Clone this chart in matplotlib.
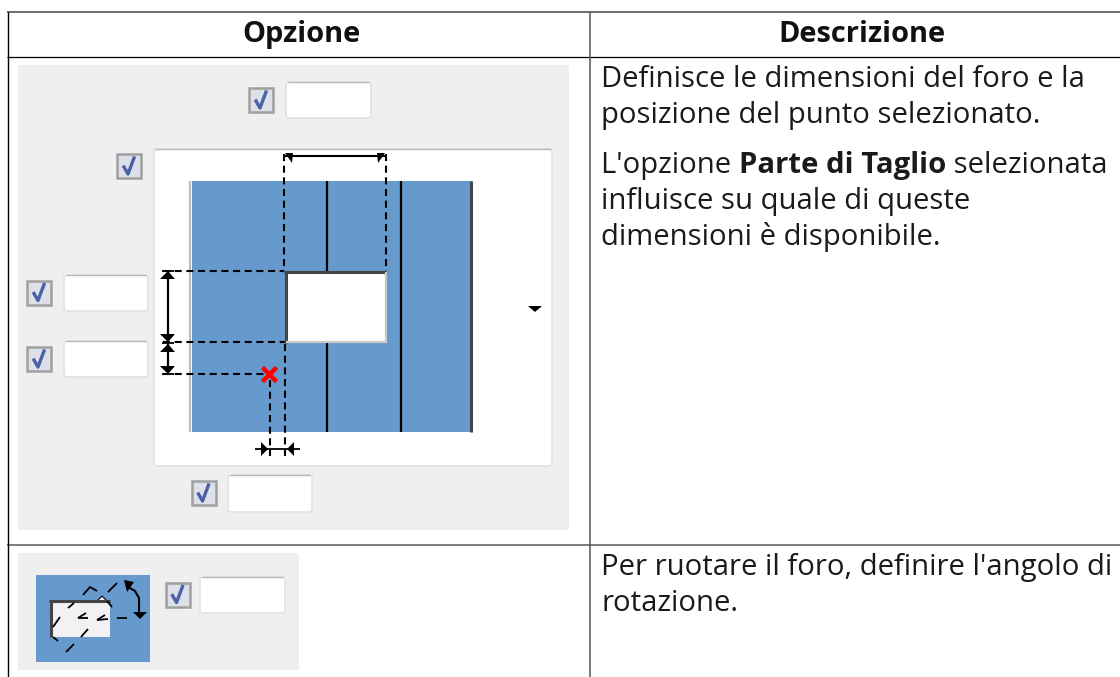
import matplotlib
matplotlib.use('Agg')
import matplotlib.pyplot as plt
from matplotlib.patches import Rectangle, FancyBboxPatch, Polygon

W, H = 1120, 677

header_labels = ['Opzione', 'Descrizione']
header_x = [301, 862]
row1_lines = [
    [('Definisce le dimensioni del foro e la', False)],
    [('posizione del punto selezionato.', False)],
    [("L'opzione ", False), ('Parte di Taglio', True), (' selezionata', False)],
    [('influisce su quale di queste', False)],
    [('dimensioni è disponibile.', False)],
]
row1_y = [87, 123, 173, 209, 245]
row2_lines = ["Per ruotare il foro, definire l'angolo di", 'rotazione.']
row2_y = [575, 611]

# checkbox centres
boxes = [(261, 100), (129, 166), (39, 292.5), (39, 359), (203.5, 493), (177.5, 594.5)]
# input fields: left, right, top, bottom
fields = [(285, 372, 81, 119), (63, 149, 274, 312), (63, 149, 340, 378), (227, 313, 474, 513), (199, 286, 576, 614)]

strip_x = [327, 401]

BLUE = '#6699cc'
GREY = '#efefef'

fig = plt.figure(figsize=(W / 100, H / 100), dpi=100)
ax = fig.add_axes([0, 0, 1, 1])
ax.set_xlim(0, W)
ax.set_ylim(H, 0)
ax.axis('off')


def line(x, y, c='black', lw=1.0, z=2):
    ax.plot(x, y, color=c, lw=lw, solid_capstyle='butt', zorder=z)


def dash(x, y):
    ax.plot(x, y, color='black', lw=1.5, ls=(0, (3.4, 2.2)), zorder=2)


def tri(pts):
    ax.add_patch(Polygon(pts, closed=True, fc='black', ec='none', zorder=2.5))


def checkbox(x, y):
    ax.add_patch(Rectangle((x - 12, y - 12), 24, 24, fc='#dde0e8', ec='#a0a0a0', lw=1.8))
    ax.plot([x - 5, x - 1, x + 5], [y + 1, y + 8, y - 8], color='#4a62a8', lw=2.4, zorder=2)


def field(x0, x1, y0, y1):
    ax.add_patch(FancyBboxPatch((x0 + 1, y0 + 1), x1 - x0 - 2, y1 - y0 - 2,
                                boxstyle='round,pad=0,rounding_size=3',
                                fc='white', ec='#e0e2ea', lw=1.2))
    line([x0 + 3, x1 - 3], [y0 + 0.5, y0 + 0.5], '#b8b8b8', 1.0)


# image backgrounds
ax.add_patch(Rectangle((18, 65), 551, 465, fc=GREY, ec='none'))
ax.add_patch(Rectangle((18, 553), 281, 117, fc=GREY, ec='none'))

# big drawing panel
ax.add_patch(FancyBboxPatch((154, 149), 398, 317, boxstyle='round,pad=0,rounding_size=3',
                            fc='white', ec='#e0e2ea', lw=1.2))
line([155, 551], [148.5, 148.5], '#b8b8b8', 1.0)
ax.add_patch(Rectangle((192, 181), 280, 251, fc=BLUE, ec='none'))
line([190, 190], [181, 432], '#bdbdbd', 1.6)
for x in strip_x:
    line([x, x], [181, 432], 'black', 1.6, z=1.5)
line([471, 471], [181, 432], '#444444', 2.2, z=1.5)

# hole
ax.add_patch(Rectangle((285, 272), 101, 71, fc='white', ec='none', zorder=1.8))
line([285.5, 285.5], [271, 343], '#444444', 2.2)
line([284, 386], [272, 272], '#444444', 2.2)
line([386, 386], [272, 343], '#c8c8c8', 1.6)
line([286, 386], [342, 342], '#c8c8c8', 1.6)

# top dimension
dash([283.5, 283.5], [154, 271])
dash([386, 386], [154, 271])
line([284, 386], [156, 156], 'black', 1.5)
tri([(285, 153), (293, 153), (292, 163)])
tri([(385, 153), (377, 153), (378, 163)])

# left dimensions
dash([163, 284], [270.5, 270.5])
dash([163, 285], [342, 342])
dash([163, 266], [374, 374])
line([168, 168], [272, 372], 'black', 1.6)
for y in [271, 343, 374]:
    line([162, 174], [y, y], 'black', 1.3)
tri([(160, 279), (175, 279), (168, 271)])
tri([(160, 334), (175, 334), (168, 342)])
tri([(160, 352), (175, 352), (168, 344)])
tri([(160, 366), (175, 366), (168, 374)])

# bottom dimension
dash([269.5, 269.5], [380, 456])
dash([285, 285], [344, 456])
line([255, 300], [449, 449], 'black', 1.3)
tri([(261, 442), (261, 456), (268, 449)])
tri([(294, 442), (294, 456), (287, 449)])

# red cross
ax.plot([264, 275], [369, 380], color='#ff0000', lw=3.2, zorder=3)
ax.plot([275, 264], [369, 380], color='#ff0000', lw=3.2, zorder=3)

# drop arrow
tri([(528, 306), (542, 306), (535, 312)])

# rotation image
ax.add_patch(Rectangle((36, 575), 114, 87, fc=BLUE, ec='none'))
ax.add_patch(Rectangle((50, 601), 60, 36, fc='#f2f2f2', ec='none'))
ax.add_patch(Polygon([(97, 601), (102, 596), (107, 601)], closed=True, fc='#f2f2f2', ec='black', lw=0.8))
line([49, 110], [601, 601], '#444444', 2.2)
line([51, 51], [600, 637], '#444444', 2.2)
rot_dashes = [([83, 90, 97], [595, 587, 591]), ([108, 117], [592, 583]), ([68, 74], [608, 603]),
              ([53, 60], [627, 617]), ([78, 86], [618, 613]), ([78, 88], [618, 618]),
              ([97, 105], [620, 615]), ([97, 108], [620, 619]), ([117, 127], [618, 618]),
              ([81, 88], [637, 629]), ([66, 74], [652, 644]), ([53, 58], [637, 641]),
              ([107, 112], [601, 607])]
for dx, dy in rot_dashes:
    line(dx, dy, 'black', 1.3)
ax.plot([128, 135, 139, 139], [587, 591, 598, 613], color='black', lw=1.5, zorder=2)
tri([(124, 580), (134, 582), (127, 592)])
tri([(133, 612), (147, 612), (140, 619)])

# checkboxes and fields
for cx, cy in boxes:
    checkbox(cx, cy)
for f in fields:
    field(*f)

# table rules
line([7, 1120], [12, 12], '#6e6e6e', 1.4)
line([7, 1120], [57, 57], 'black', 0.9)
line([7, 1120], [544.5, 544.5], '#666666', 1.2)
line([7.5, 7.5], [12, 677], 'black', 1.0)
line([589.5, 589.5], [12, 677], '#555555', 1.1)

FONT = 'Open Sans'
FS = 21.1
for s, x in zip(header_labels, header_x):
    ax.text(x, 42, s, ha='center', va='baseline', family=FONT, fontsize=20.9, fontweight='bold', color='#111111')

renderer = fig.canvas.get_renderer()
for parts, y in zip(row1_lines, row1_y):
    x = 601
    for s, bold in parts:
        ax.text(x, y, s, ha='left', va='baseline', family=FONT, fontsize=FS,
                fontweight='bold' if bold else 'normal', color='#1a1a1a')
        # trailing spaces are not in the window extent, so measure with nbsp
        probe = ax.text(0, 0, s.replace(' ', '\u00a0'), family=FONT, fontsize=FS,
                        fontweight='bold' if bold else 'normal')
        x += probe.get_window_extent(renderer).width
        probe.remove()
for s, y in zip(row2_lines, row2_y):
    ax.text(601, y, s, ha='left', va='baseline', family=FONT, fontsize=FS, color='#1a1a1a')

fig.savefig('out.png', dpi=100)
